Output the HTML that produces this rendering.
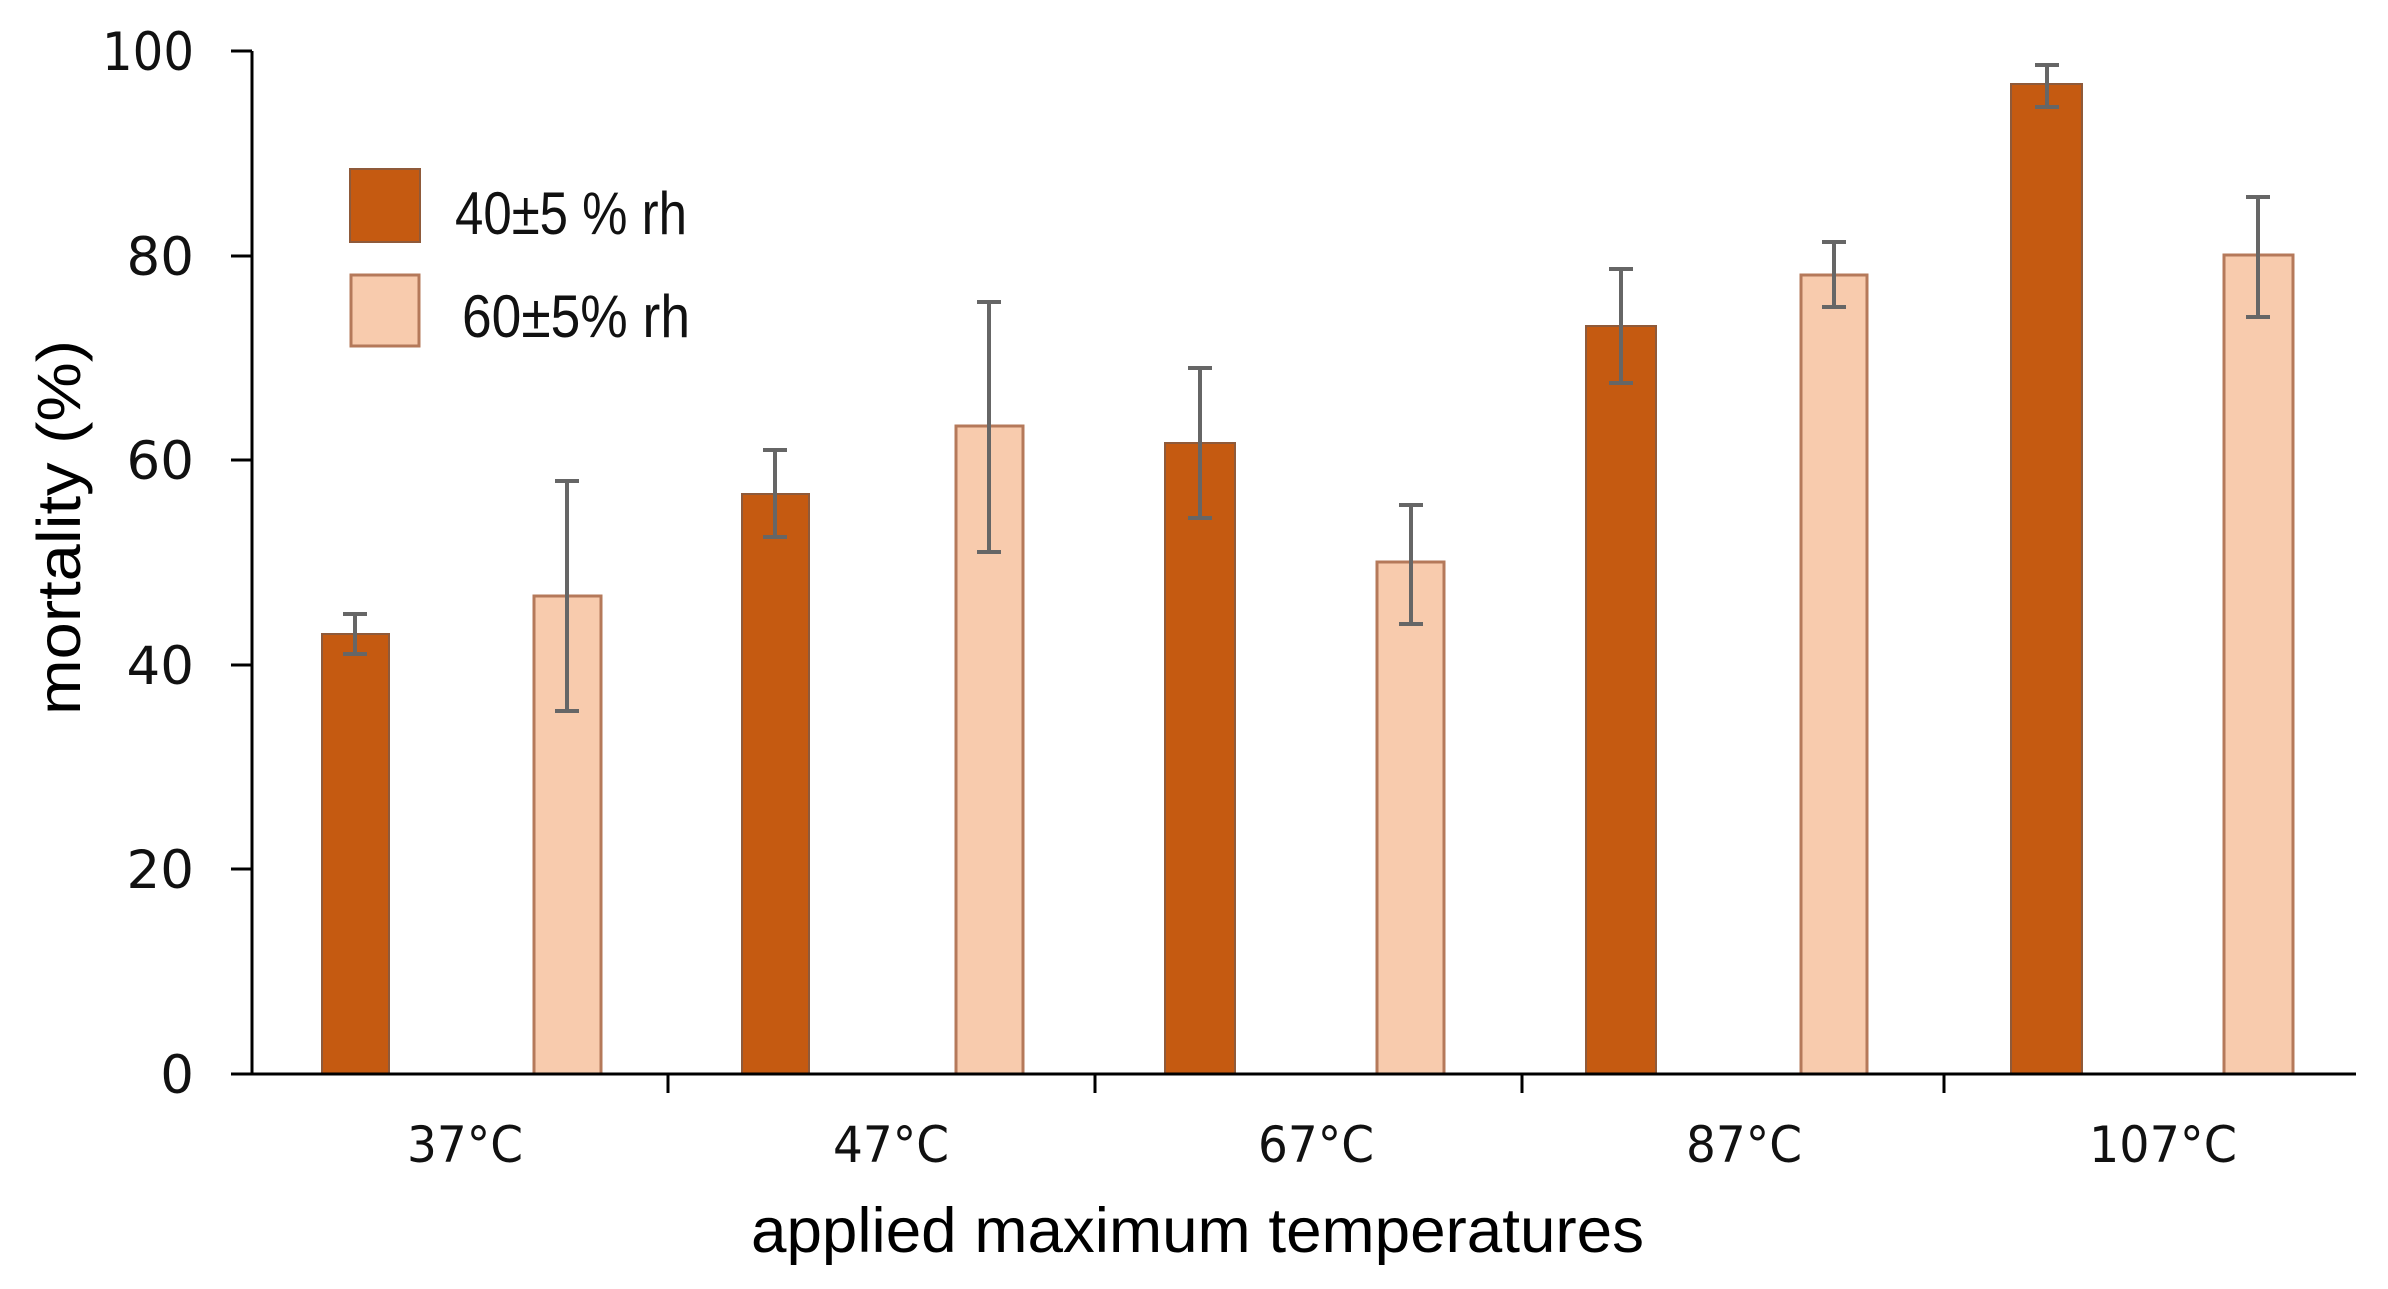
<!DOCTYPE html>
<html><head><meta charset="utf-8"><style>
html,body{margin:0;padding:0;background:#fff;}
svg{display:block;}
</style></head><body>
<svg width="2388" height="1289" viewBox="0 0 2388 1289" xmlns="http://www.w3.org/2000/svg">
<rect width="2388" height="1289" fill="#fff"/>
<g>
<rect x="322" y="634" width="67" height="440" fill="#C55A11" stroke="#8f5a3a" stroke-width="2"/>
<rect x="534" y="596" width="67" height="478" fill="#F8CBAD" stroke="#B5795A" stroke-width="3"/>
<rect x="742" y="494" width="67" height="580" fill="#C55A11" stroke="#8f5a3a" stroke-width="2"/>
<rect x="956" y="426" width="67" height="648" fill="#F8CBAD" stroke="#B5795A" stroke-width="3"/>
<rect x="1165" y="443" width="70" height="631" fill="#C55A11" stroke="#8f5a3a" stroke-width="2"/>
<rect x="1377" y="562" width="67" height="512" fill="#F8CBAD" stroke="#B5795A" stroke-width="3"/>
<rect x="1586" y="326" width="70" height="748" fill="#C55A11" stroke="#8f5a3a" stroke-width="2"/>
<rect x="1801" y="275" width="66" height="799" fill="#F8CBAD" stroke="#B5795A" stroke-width="3"/>
<rect x="2011" y="84" width="71" height="990" fill="#C55A11" stroke="#8f5a3a" stroke-width="2"/>
<rect x="2224" y="255" width="69" height="819" fill="#F8CBAD" stroke="#B5795A" stroke-width="3"/>
</g>
<g stroke="#666" stroke-width="4" fill="none">
<path d="M355 614V654M343 614H367M343 654H367"/>
<path d="M567 481V711M555 481H579M555 711H579"/>
<path d="M775 450V537M763 450H787M763 537H787"/>
<path d="M989 302V552M977 302H1001M977 552H1001"/>
<path d="M1200 368V518M1188 368H1212M1188 518H1212"/>
<path d="M1411 505V624M1399 505H1423M1399 624H1423"/>
<path d="M1621 269V383M1609 269H1633M1609 383H1633"/>
<path d="M1834 242V307M1822 242H1846M1822 307H1846"/>
<path d="M2047 65V107M2035 65H2059M2035 107H2059"/>
<path d="M2258 197V317M2246 197H2270M2246 317H2270"/>
</g>
<g stroke="#000" stroke-width="3" fill="none">
<path d="M252 51V1074"/>
<path d="M231 1074H2356"/>
<path d="M231 51H252M231 256H252M231 460H252M231 665H252M231 869H252"/>
<path d="M668 1074V1093M1095 1074V1093M1522 1074V1093M1944 1074V1093"/>
</g>
<g font-family="DejaVu Sans, sans-serif" font-size="53" fill="#111" text-anchor="end">
<text x="194" y="70" textLength="92" lengthAdjust="spacingAndGlyphs">100</text>
<text x="194" y="275">80</text>
<text x="194" y="479">60</text>
<text x="194" y="684">40</text>
<text x="194" y="888">20</text>
<text x="194" y="1093">0</text>
</g>
<g font-family="DejaVu Sans, sans-serif" font-size="50" fill="#111" text-anchor="middle">
<text x="465" y="1162" textLength="116" lengthAdjust="spacingAndGlyphs">37°C</text>
<text x="891" y="1162" textLength="116" lengthAdjust="spacingAndGlyphs">47°C</text>
<text x="1316" y="1162" textLength="116" lengthAdjust="spacingAndGlyphs">67°C</text>
<text x="1744" y="1162" textLength="116" lengthAdjust="spacingAndGlyphs">87°C</text>
<text x="2163" y="1162" textLength="148" lengthAdjust="spacingAndGlyphs">107°C</text>
</g>
<text x="751" y="1252" font-family="Liberation Sans, sans-serif" font-size="63" fill="#000" textLength="893" lengthAdjust="spacingAndGlyphs">applied maximum temperatures</text>
<text transform="translate(80,715) rotate(-90)" font-family="Liberation Sans, sans-serif" font-size="61" fill="#000" textLength="375" lengthAdjust="spacingAndGlyphs">mortality (%)</text>
<rect x="350" y="169" width="70" height="73" fill="#C55A11" stroke="#8f5a3a" stroke-width="2"/>
<rect x="351" y="275" width="68" height="71" fill="#F8CBAD" stroke="#B5795A" stroke-width="3"/>
<text x="455" y="234" font-family="Liberation Sans, sans-serif" font-size="60" fill="#111" textLength="232" lengthAdjust="spacingAndGlyphs">40±5 % rh</text>
<text x="462" y="337" font-family="Liberation Sans, sans-serif" font-size="60" fill="#111" textLength="228" lengthAdjust="spacingAndGlyphs">60±5% rh</text>
</svg>
</body></html>
